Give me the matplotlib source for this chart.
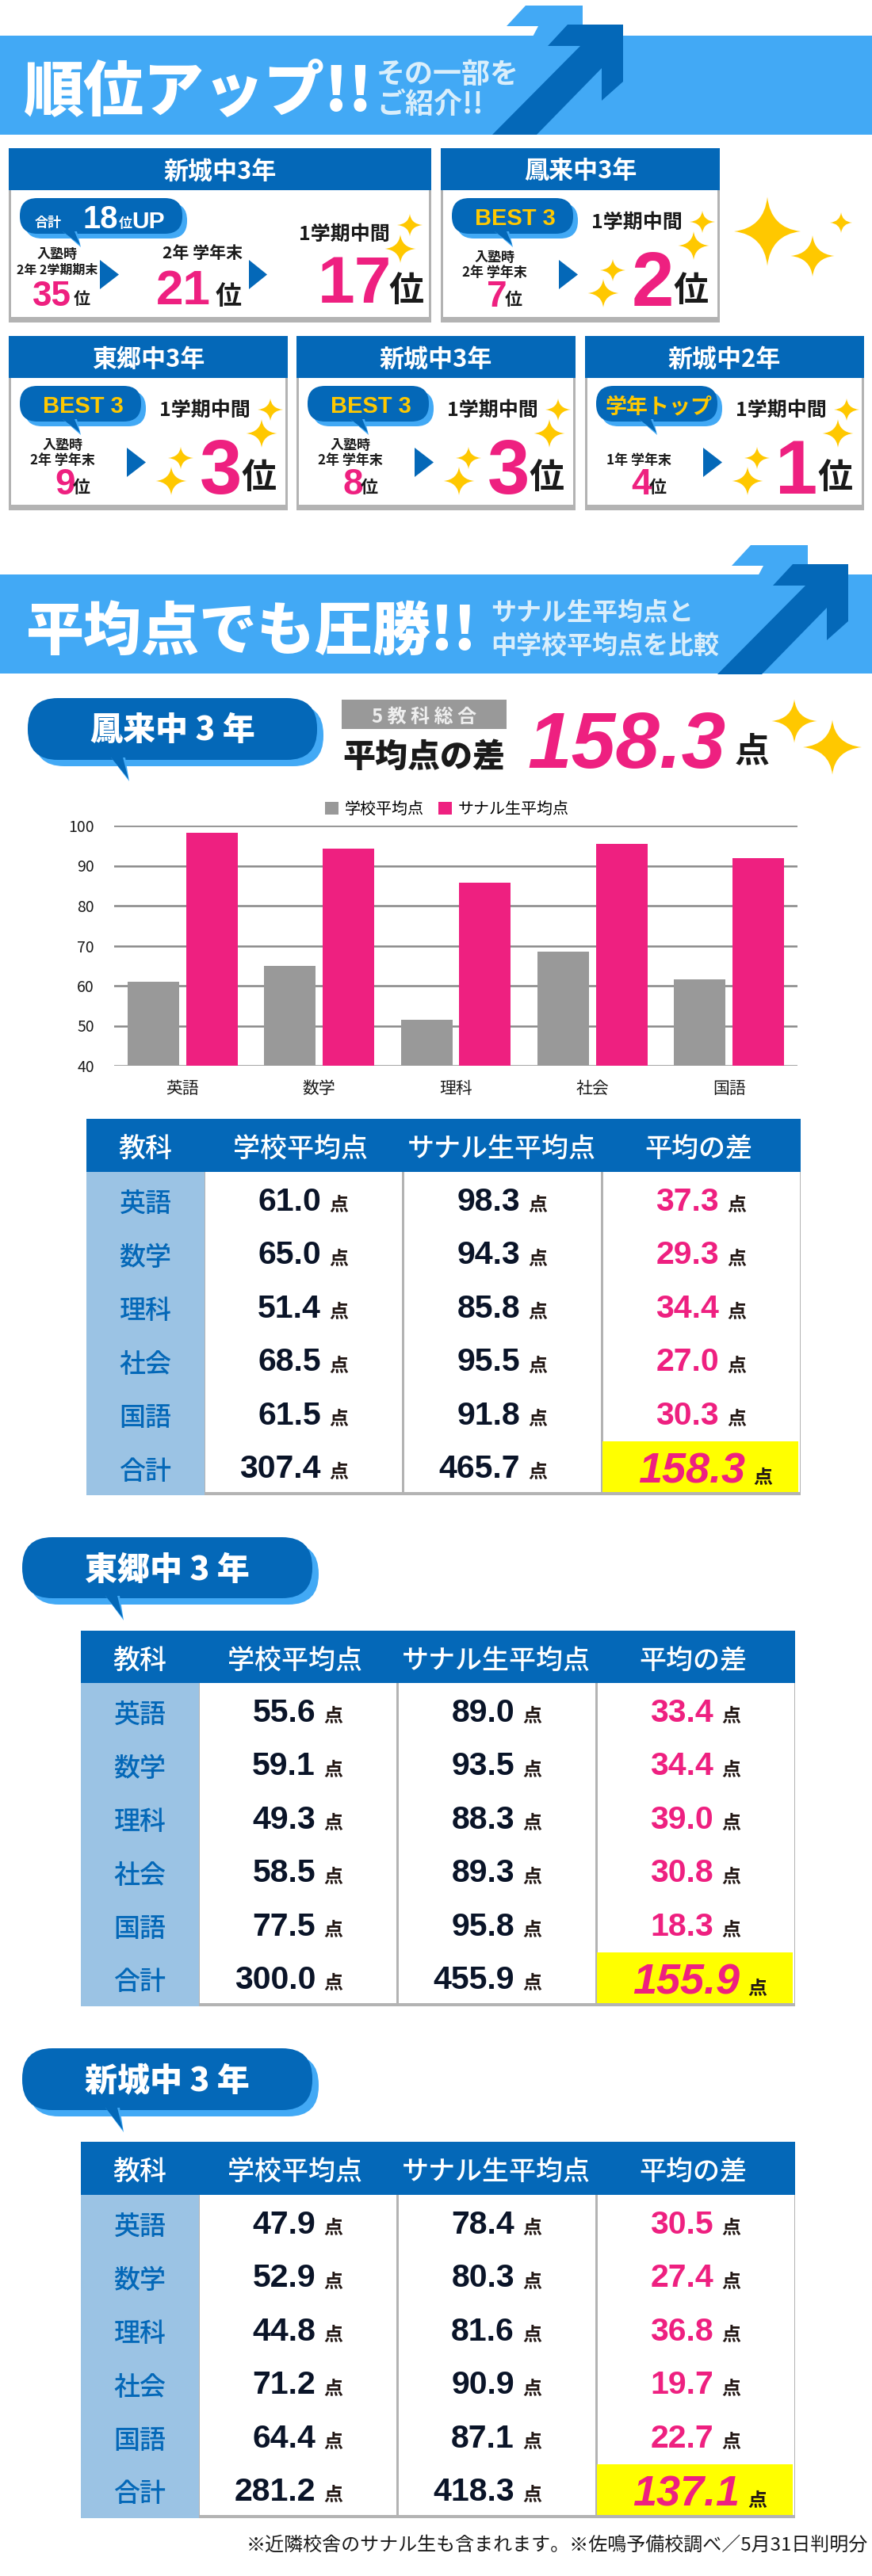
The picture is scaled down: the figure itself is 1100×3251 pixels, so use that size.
import matplotlib
matplotlib.use("Agg")
import matplotlib.pyplot as plt
from matplotlib.patches import Rectangle, Polygon, FancyBboxPatch, PathPatch
from matplotlib.path import Path

plt.rcParams['font.family'] = ['Noto Sans CJK JP', 'DejaVu Sans']

DARK = "#0468b8"
LIGHT = "#42a9f5"
PINK = "#ee2080"
GRAY = "#b3b3b3"
BAR_GRAY = "#999999"
STAR = "#ffc800"
INK = "#1a1a1a"
NAVY = "#0a1428"
SIDE = "#9bc3e4"
JP = ['Noto Sans CJK JP', 'DejaVu Sans']
NUM = ['Liberation Sans', 'Noto Sans CJK JP']

# ---- data ----
subjects = ["英語", "数学", "理科", "社会", "国語"]
table_labels = subjects + ["合計"]
table_headers = ["教科", "学校平均点", "サナル生平均点", "平均の差"]

school_names = ["鳳来中 3 年", "東郷中 3 年", "新城中 3 年"]
school_avg_1 = [61.0, 65.0, 51.4, 68.5, 61.5, 307.4]
sanaru_avg_1 = [98.3, 94.3, 85.8, 95.5, 91.8, 465.7]
diff_1 = [37.3, 29.3, 34.4, 27.0, 30.3, 158.3]
school_avg_2 = [55.6, 59.1, 49.3, 58.5, 77.5, 300.0]
sanaru_avg_2 = [89.0, 93.5, 88.3, 89.3, 95.8, 455.9]
diff_2 = [33.4, 34.4, 39.0, 30.8, 18.3, 155.9]
school_avg_3 = [47.9, 52.9, 44.8, 71.2, 64.4, 281.2]
sanaru_avg_3 = [78.4, 80.3, 81.6, 90.9, 87.1, 418.3]
diff_3 = [30.5, 27.4, 36.8, 19.7, 22.7, 137.1]

chart_ticks = [40, 50, 60, 70, 80, 90, 100]
chart_school = [61.0, 65.0, 51.4, 68.5, 61.5]
chart_sanaru = [98.3, 94.3, 85.8, 95.5, 91.8]

panel_titles = ["鳳来中3年", "東郷中3年", "新城中3年", "新城中2年"]
panel_badges = ["BEST 3", "BEST 3", "BEST 3", "学年トップ"]
panel_before_top = ["入塾時", "入塾時", "入塾時", ""]
panel_before_label = ["2年 学年末", "2年 学年末", "2年 学年末", "1年 学年末"]
panel_before_rank = ["7", "9", "8", "4"]
panel_after_rank = ["2", "3", "3", "1"]

fig = plt.figure(figsize=(11, 32.51), dpi=100, facecolor="white")
ax = fig.add_axes([0, 0, 1, 1])
ax.set_xlim(0, 1100)
ax.set_ylim(3251, 0)
ax.axis("off")


def t(x, y, s, px, color=INK, weight="bold", family=JP, ha="center", style="normal", z=6):
    ax.text(x, y, s, fontsize=px * 0.72, color=color, fontweight=weight, family=family,
            ha=ha, va="center_baseline", fontstyle=style, zorder=z)


def rect(x0, y0, x1, y1, color, z=1):
    ax.add_patch(Rectangle((x0, y0), x1 - x0, y1 - y0, facecolor=color, edgecolor="none", zorder=z))


def sparkle(cx, cy, w, h=None):
    h = w if h is None else h
    a, b = w / 2, h / 2
    k = 0.1
    verts = [(cx, cy - b), (cx + a * k, cy - b * k), (cx + a, cy), (cx + a * k, cy + b * k),
             (cx, cy + b), (cx - a * k, cy + b * k), (cx - a, cy), (cx - a * k, cy - b * k), (cx, cy - b)]
    codes = [Path.MOVETO] + [Path.CURVE3] * 8
    ax.add_patch(PathPatch(Path(verts, codes), facecolor=STAR, edgecolor="none", zorder=5))


def banner(y0, y1, dx, dy):
    rect(0, y0, 1100, y1, LIGHT)
    ax.add_patch(Polygon([(663 + dx, 7 + dy), (735 + dx, 7 + dy), (735 + dx, 50 + dy), (670 + dx, 50 + dy),
                          (679 + dx, 33 + dy), (639 + dx, 33 + dy)], facecolor=LIGHT, edgecolor="none", zorder=1))
    ax.add_patch(Polygon([(621 + dx, 170 + dy), (677 + dx, 170 + dy), (759 + dx, 86 + dy), (759 + dx, 127 + dy),
                          (786 + dx, 103 + dy), (786 + dx, 31 + dy), (716 + dx, 31 + dy), (691 + dx, 58 + dy),
                          (732 + dx, 58 + dy)], facecolor=DARK, edgecolor="none", zorder=2))


def bubble(x0, y0, x1, y1, tipx, tipy, rad, off):
    # lighter copy behind, offset down and to the right
    for c, o in ((LIGHT, off), (DARK, 0)):
        ax.add_patch(FancyBboxPatch((x0 + rad + o, y0 + rad + o),
                                    x1 - x0 - 2 * rad - off, y1 - y0 - 2 * rad - off,
                                    boxstyle=f"round,pad={rad},rounding_size={rad}",
                                    facecolor=c, edgecolor="none", zorder=3))
    ax.add_patch(Polygon([(tipx - 23, y1 - off - 3), (tipx - 5, y1 - off - 3), (tipx, tipy)],
                         facecolor=LIGHT, edgecolor="none", zorder=3))
    ax.add_patch(Polygon([(tipx - 23, y1 - off - 3), (tipx - 8, y1 - off - 3), (tipx - 1, tipy - 3)],
                         facecolor=DARK, edgecolor="none", zorder=4))


def arrow_tri(x0, x1, y0, y1):
    ax.add_patch(Polygon([(x0, y0), (x1, (y0 + y1) / 2), (x0, y1)], facecolor=DARK, edgecolor="none", zorder=5))


def panel_frame(x0, x1, top, title):
    bottom = top + 220
    rect(x0, top, x1, bottom, GRAY)
    rect(x0 + 3, top + 50, x1 - 3, bottom - 7, "white")
    rect(x0, top, x1, top + 53, DARK, z=2)
    t((x0 + x1) / 2, top + 26, title, 31, color="white")


def small_panel(x0, top, i):
    panel_frame(x0, x0 + 352, top, panel_titles[i])
    bubble(x0 + 14, top + 63, x0 + 173, top + 114, x0 + 91, top + 125, 22, 6)
    badge = panel_badges[i]
    if badge == "BEST 3":
        t(x0 + 94, top + 86, badge, 29, color=STAR, family=NUM)
    else:
        t(x0 + 93, top + 86, badge, 27, color=STAR)
    if panel_before_top[i]:
        t(x0 + 68, top + 136, panel_before_top[i], 17)
    t(x0 + 68, top + 155, panel_before_label[i], 17)
    t(x0 + 71, top + 183, panel_before_rank[i], 46, color=PINK, family=NUM)
    t(x0 + 92, top + 189, "位", 22)
    arrow_tri(x0 + 149, x0 + 173, top + 141, top + 178)
    t(x0 + 247, top + 91, "1学期中間", 25)
    t(x0 + 267, top + 164, panel_after_rank[i], 96, color=PINK, family=NUM)
    t(x0 + 315, top + 175, "位", 44)
    sparkle(x0 + 330, top + 93, 32, 28)
    sparkle(x0 + 319, top + 123, 39, 36)
    sparkle(x0 + 217, top + 154, 32, 28)
    sparkle(x0 + 205, top + 183, 39, 36)


def score_table(x_off, top, head_bottom, bottom, school, sanaru, diff):
    cols = [102 + x_off, 251 + x_off, 501 + x_off, 752 + x_off, 1003 + x_off]
    rect(cols[1], head_bottom, cols[4], bottom, GRAY)
    for c0, c1 in zip(cols[1:-1], cols[2:]):
        rect(c0 + 1.5 if c0 != cols[1] else c0 + 1, head_bottom, c1 - 1.5, bottom - 4, "white")
    rect(cols[0], head_bottom, cols[1], bottom, SIDE, z=2)
    rect(cols[0], top, cols[4], head_bottom, DARK, z=2)
    centers = [(cols[0] + cols[1]) / 2, (cols[1] + cols[2]) / 2 - 4, (cols[2] + cols[3]) / 2 - 1, (cols[3] + cols[4]) / 2 - 3]
    for cx, label in zip(centers, table_headers):
        t(cx, (top + head_bottom) / 2 + 1, label, 34, color="white", weight="medium")
    row_h = 67.4
    yel_top = bottom - 68
    rect(cols[3] + 1, yel_top, cols[4] - 3, bottom - 4, "#ffff00", z=2)
    for r, label in enumerate(table_labels):
        y = head_bottom + 37 + r * row_h
        t(centers[0], y, label, 33, color=DARK, weight="medium")
        for c, vals, col in ((2, school, NAVY), (3, sanaru, NAVY), (4, diff, PINK)):
            if c == 4 and r == 5:
                t(cols[c] - 70, y - 1, f"{vals[r]:.1f}", 54, color=PINK, family=NUM, ha="right", style="italic")
                t(cols[c] - 48, y + 10, "点", 24, color="#231815")
            else:
                t(cols[c] - 103, y - 3, f"{vals[r]:.1f}", 41, color=col, family=NUM, ha="right")
                t(cols[c] - 81, y + 3, "点", 24, color="#231815")


# ---- first banner ----
banner(45, 170, 0, 0)
t(29, 109, "順位アップ!!", 76, color="white", weight="black", ha="left")
t(475, 90, "その一部を", 36, color="#d9eefb", ha="left")
t(475, 128, "ご紹介!!", 36, color="#d9eefb", ha="left")

# ---- rank panels ----
panel_frame(11, 544, 187, "新城中3年")
bubble(25, 250, 236, 301, 102, 312, 22, 6)
t(61, 279, "合計", 17, color="white")
t(127, 273, "18", 40, color="white", family=NUM)
t(158, 280, "位", 17, color="white")
t(187, 277, "UP", 30, color="white", family=NUM)
t(72, 319, "入塾時", 17)
t(72, 339, "2年 2学期期末", 16)
t(65, 370, "35", 44, color=PINK, family=NUM)
t(103, 376, "位", 21)
arrow_tri(126, 150, 328, 365)
t(256, 318, "2年 学年末", 21)
t(231, 362, "21", 62, color=PINK, family=NUM)
t(288, 371, "位", 33)
arrow_tri(314, 337, 328, 365)
t(434, 293, "1学期中間", 25)
t(447, 351, "17", 84, color=PINK, family=NUM)
t(512, 362, "位", 44)
sparkle(517, 284, 32, 28)
sparkle(505, 314, 39, 36)

small_panel(556, 187, 0)
small_panel(11, 424, 1)
small_panel(374, 424, 2)
small_panel(738, 424, 3)
sparkle(968, 292, 84, 87)
sparkle(1025, 323, 55, 52)
sparkle(1061, 281, 28, 26)

# ---- second banner ----
banner(725, 850, 284, 681)
t(33, 790, "平均点でも圧勝!!", 73, color="white", weight="black", ha="left")
t(619, 770, "サナル生平均点と", 32, color="#d9eefb", ha="left")
t(619, 812, "中学校平均点を比較", 32, color="#d9eefb", ha="left")

# ---- 1st school ----
bubble(35, 881, 408, 967, 163, 986, 38, 8)
t(218, 918, school_names[0], 41, color="white", weight="black")
rect(431, 883, 639, 920, BAR_GRAY)
t(535, 902, "5 教 科 総 合", 24, color="#eeeeee")
t(535, 951, "平均点の差", 41, color=INK, weight="black")
t(916, 932, f"{diff_1[5]:.1f}", 100, color=PINK, family=NUM, ha="right", style="italic")
t(949, 945, "点", 44)
sparkle(1002, 910, 57, 55)
sparkle(1050, 943, 74, 69)

# ---- bar chart ----
chart = fig.add_axes([144 / 1100, 1 - 1345 / 3251, 862 / 1100, 303 / 3251])
xs = list(range(len(subjects)))
bw = 0.377
chart.bar([x - 0.2146 for x in xs], chart_school, bw, color=BAR_GRAY, label="学校平均点", zorder=3)
chart.bar([x + 0.2146 for x in xs], chart_sanaru, bw, color=PINK, label="サナル生平均点", zorder=3)
chart.set_xlim(-0.5, 4.5)
chart.set_ylim(40, 100)
chart.set_xticks(xs)
chart.set_xticklabels(subjects)
chart.set_yticks(chart_ticks)
chart.tick_params(axis="both", length=0, labelcolor=INK)
chart.tick_params(axis="x", pad=13, labelsize=15)
chart.tick_params(axis="y", pad=18, labelsize=14)
chart.grid(axis="y", color="#888888", lw=1.8, zorder=1)
chart.set_axisbelow(True)
chart.patch.set_alpha(0)
for s in chart.spines.values():
    s.set_visible(False)
for lab in chart.get_xticklabels() + chart.get_yticklabels():
    lab.set_family(JP)
chart.legend(loc="center", bbox_to_anchor=(0.5 - 0.013, 1 + 21 / 303), ncol=2, frameon=False, fontsize=14.4,
             handlelength=0.85, handleheight=0.85, handletextpad=0.4, columnspacing=0.9,
             borderaxespad=0, borderpad=0)

# ---- tables ----
score_table(7, 1412, 1479, 1887, school_avg_1, sanaru_avg_1, diff_1)

bubble(28, 1940, 402, 2025, 156, 2045, 38, 8)
t(211, 1977, school_names[1], 41, color="white", weight="black")
score_table(0, 2058, 2124, 2532, school_avg_2, sanaru_avg_2, diff_2)

bubble(28, 2585, 402, 2671, 156, 2691, 38, 8)
t(211, 2623, school_names[2], 41, color="white", weight="black")
score_table(0, 2703, 2770, 3178, school_avg_3, sanaru_avg_3, diff_3)

t(1095, 3210, "※近隣校舎のサナル生も含まれます。※佐鳴予備校調べ／5月31日判明分", 24, weight="regular", ha="right")

plt.savefig("out.png", dpi=100)
